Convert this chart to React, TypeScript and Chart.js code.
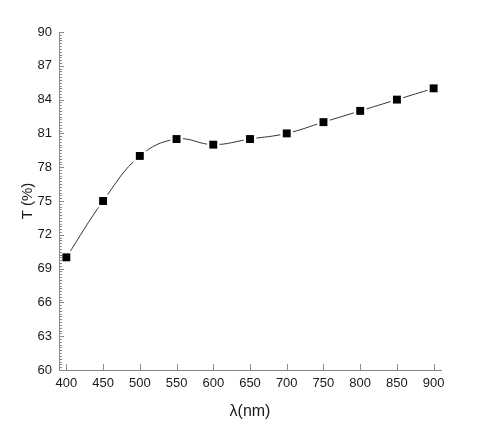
import React, { useEffect, useRef } from "react";
import { Chart, registerables } from "chart.js";

Chart.register(...registerables);

const wavelengths = [400, 450, 500, 550, 600, 650, 700, 750, 800, 850, 900];
const transmittance = [70, 75, 79, 80.5, 80, 80.5, 81, 82, 83, 84, 85];
const xTickValues = [400, 450, 500, 550, 600, 650, 700, 750, 800, 850, 900];
const yTickValues = [60, 63, 66, 69, 72, 75, 78, 81, 84, 87, 90];
const yMinorStep = 0.25;

const tickColor = "#8a8a8a";

const inwardTicks = {
  id: "inwardTicks",
  afterDraw(chart: any) {
    const { ctx, chartArea, scales } = chart;
    const x = scales.x;
    const y = scales.y;
    ctx.save();
    ctx.strokeStyle = tickColor;
    ctx.lineWidth = 1;
    ctx.beginPath();
    xTickValues.forEach((v) => {
      const px = Math.round(x.getPixelForValue(v)) + 0.5;
      ctx.moveTo(px, chartArea.bottom);
      ctx.lineTo(px, chartArea.bottom - 6);
    });
    for (let v = y.min; v <= y.max + 1e-9; v += yMinorStep) {
      const py = Math.round(y.getPixelForValue(v)) + 0.5;
      const major = yTickValues.some((t) => Math.abs(t - v) < 1e-6);
      ctx.moveTo(chartArea.left, py);
      ctx.lineTo(chartArea.left + (major ? 5 : 3), py);
    }
    ctx.stroke();
    ctx.restore();
  },
};

export default function App() {
  const canvasRef = useRef<HTMLCanvasElement | null>(null);

  useEffect(() => {
    document.body.style.margin = "0";
    const canvas = canvasRef.current;
    if (!canvas) return;
    const points = wavelengths.map((w, i) => ({ x: w, y: transmittance[i] }));
    const chart = new Chart(canvas, {
      type: "line",
      data: {
        datasets: [
          {
            data: points,
            showLine: false,
            pointStyle: "rect",
            pointRadius: 5.6,
            pointHoverRadius: 5.6,
            pointBackgroundColor: "#000",
            pointBorderWidth: 0,
            order: 1,
          },
          {
            data: points,
            showLine: false,
            pointStyle: "rect",
            pointRadius: 9,
            pointHoverRadius: 9,
            pointBackgroundColor: "#fff",
            pointBorderWidth: 0,
            order: 2,
          },
          {
            data: points,
            borderColor: "#333",
            borderWidth: 1,
            tension: 0.4,
            pointRadius: 0,
            fill: false,
            order: 3,
          },
        ],
      },
      options: {
        animation: false,
        responsive: false,
        maintainAspectRatio: false,
        events: [],
        layout: { padding: { top: 32, right: 43, left: 15, bottom: 0 } },
        plugins: {
          legend: { display: false },
          tooltip: { enabled: false },
        },
        scales: {
          x: {
            type: "linear",
            min: 390,
            max: 910,
            afterBuildTicks: (scale: any) => {
              scale.ticks = xTickValues.map((v) => ({ value: v }));
            },
            afterFit: (scale: any) => {
              scale.height = 57;
            },
            grid: { display: false, drawTicks: false },
            border: { display: true, color: tickColor, width: 1 },
            ticks: {
              color: "#1a1a1a",
              font: { family: "Liberation Sans", size: 13 },
              padding: 6,
              maxRotation: 0,
            },
            title: {
              display: true,
              text: "λ(nm)",
              color: "#1a1a1a",
              font: { family: "Liberation Sans", size: 16 },
              padding: { top: 0, bottom: 6 },
            },
          },
          y: {
            type: "linear",
            min: 60,
            max: 90,
            afterBuildTicks: (scale: any) => {
              scale.ticks = yTickValues.map((v) => ({ value: v }));
            },
            afterFit: (scale: any) => {
              scale.width = 44;
            },
            grid: { display: false, drawTicks: false },
            border: { display: true, color: tickColor, width: 1 },
            ticks: {
              color: "#1a1a1a",
              font: { family: "Liberation Sans", size: 13 },
              padding: 7,
            },
            title: {
              display: true,
              text: "T (%)",
              color: "#1a1a1a",
              font: { family: "Liberation Sans", size: 15 },
              padding: { top: 4, bottom: 0 },
            },
          },
        },
      },
      plugins: [inwardTicks],
    });
    return () => chart.destroy();
  }, []);

  return (
    <div style={{ width: 484, height: 427, background: "#fff" }}>
      <canvas ref={canvasRef} width={484} height={427} style={{ width: 484, height: 427, display: "block" }} />
    </div>
  );
}
